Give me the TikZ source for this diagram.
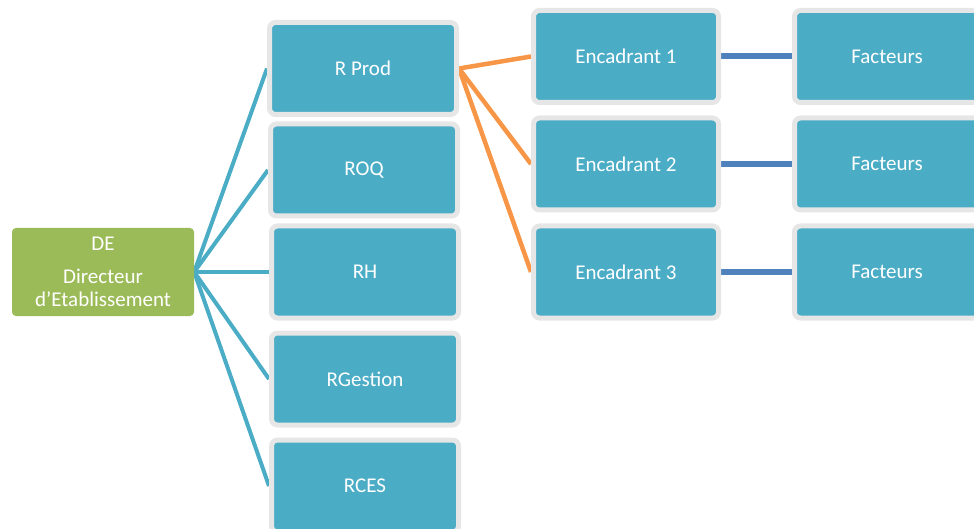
\documentclass[tikz,border=0pt]{standalone}
\usepackage{fontspec}
\setmainfont{Carlito}
\usetikzlibrary{backgrounds}
\definecolor{tealfill}{HTML}{4BACC6}
\definecolor{boxgray}{HTML}{E6E6E6}
\definecolor{degreen}{HTML}{9BBB59}
\definecolor{orangeln}{HTML}{F79646}
\definecolor{blueln}{HTML}{4F81BD}
\begin{document}
\begin{tikzpicture}[x=1pt,y=-1pt,
  txt/.style={text=white,font=\fontsize{21}{23}\selectfont,align=center},
  bluebox/.style={txt,rectangle,rounded corners=6pt,fill=tealfill,draw=boxgray,line width=5pt,minimum width=187pt,minimum height=92pt,inner sep=0pt},
  encbox/.style={bluebox,minimum width=185pt},
  facbox/.style={bluebox,minimum width=220pt},
  debox/.style={txt,rectangle,rounded corners=4pt,fill=degreen,minimum width=182pt,minimum height=88pt,inner sep=0pt},
  tealln/.style={draw=tealfill,line width=4pt},
  orln/.style={draw=orangeln,line width=4.5pt},
  blln/.style={draw=blueln,line width=6pt}]
\clip (0,0) rectangle (974,529);
\node[debox] (de) at (103,272) {DE\\[10pt]Directeur\\d'Etablissement};
\node[bluebox] (rprod) at (363,68.5) {R Prod};
\node[bluebox] (roq) at (364,170) {ROQ};
\node[bluebox] (rh) at (365,272) {RH};
\node[bluebox] (rges) at (365,379) {RGestion};
\node[bluebox] (rces) at (365,486) {RCES};
\node[encbox] (e1) at (626,56.5) {Encadrant 1};
\node[encbox] (e2) at (626,164) {Encadrant 2};
\node[encbox] (e3) at (626,272) {Encadrant 3};
\node[facbox] (f1) at (904.5,56.5) {\hspace*{-35pt}Facteurs};
\node[facbox] (f2) at (904.5,164) {\hspace*{-35pt}Facteurs};
\node[facbox] (f3) at (904.5,272) {\hspace*{-35pt}Facteurs};
\begin{pgfonlayer}{background}
\foreach \t in {rprod,roq,rh,rges,rces}
  \draw[tealln] (de.east) -- (\t.west);
\foreach \t in {e1,e2,e3}
  \draw[orln] (rprod.east) -- (\t.west);
\draw[blln] (e1.east) -- (f1.west);
\draw[blln] (e2.east) -- (f2.west);
\draw[blln] (e3.east) -- (f3.west);
\end{pgfonlayer}
\end{tikzpicture}
\end{document}
